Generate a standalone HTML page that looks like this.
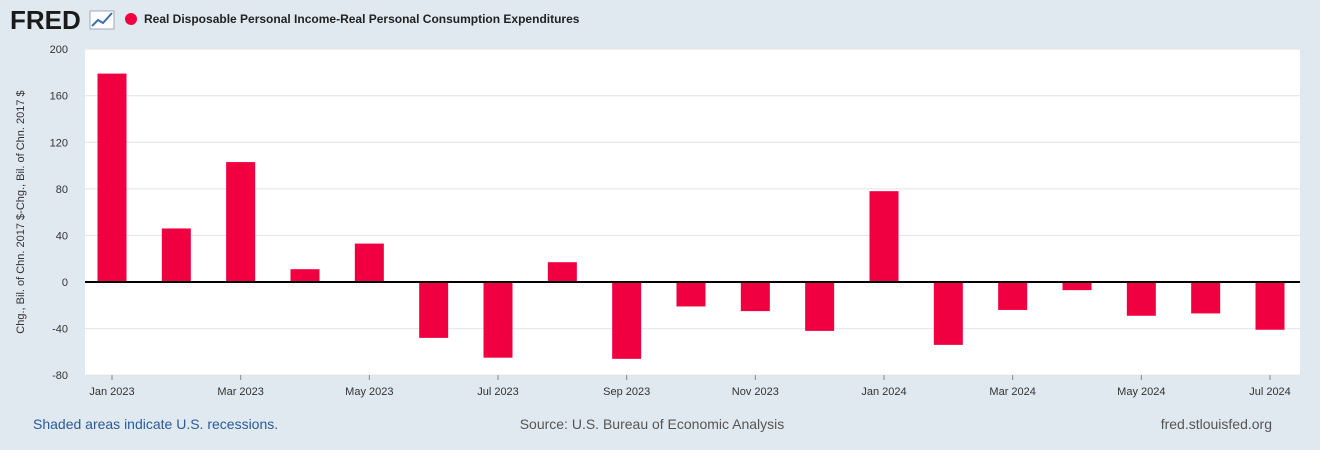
<!DOCTYPE html>
<html><head><meta charset="utf-8"><style>
body{margin:0;background:#e1e9f0;font-family:"Liberation Sans",Arial,sans-serif}
svg{display:block}
</style></head><body>
<svg width="1320" height="450" xmlns="http://www.w3.org/2000/svg">
<rect width="1320" height="450" fill="#e1e9f0"/>
<text x="10" y="29" font-size="26" font-weight="bold" fill="#1a1a1a" font-family="Liberation Sans,sans-serif">FRED</text>
<g><rect x="90" y="11" width="24" height="18" fill="#fff" stroke="#9ab"/><polyline points="92,26 98,20 103,23 112,13" fill="none" stroke="#3b6fb0" stroke-width="2"/></g>
<circle cx="131" cy="19" r="6" fill="#f00040"/>
<text x="144" y="23" font-size="12" font-weight="bold" fill="#222">Real Disposable Personal Income-Real Personal Consumption Expenditures</text>
<rect x="85" y="49" width="1215" height="326" fill="#fff"/>
<g id="grid"></g><g id="bars"></g><g id="xt"></g>
<text transform="translate(24,212) rotate(-90)" text-anchor="middle" font-size="11" fill="#333">Chg., Bil. of Chn. 2017 $-Chg., Bil. of Chn. 2017 $</text>
<text x="33" y="429" font-size="14" fill="#2a5a9a">Shaded areas indicate U.S. recessions.</text>
<text x="652" y="429" text-anchor="middle" font-size="14" fill="#555">Source: U.S. Bureau of Economic Analysis</text>
<text x="1272" y="429" text-anchor="end" font-size="14" fill="#555">fred.stlouisfed.org</text>
</svg>
<script>
const categories=["Jan 2023","Feb 2023","Mar 2023","Apr 2023","May 2023","Jun 2023","Jul 2023","Aug 2023","Sep 2023","Oct 2023","Nov 2023","Dec 2023","Jan 2024","Feb 2024","Mar 2024","Apr 2024","May 2024","Jun 2024","Jul 2024"];
const values=[179,46,103,11,33,-48,-65,17,-66,-21,-25,-42,78,-54,-24,-7,-29,-27,-41];
const yTicks=[200,160,120,80,40,0,-40,-80];
const NS="http://www.w3.org/2000/svg";
const y=v=>282-(v)*326/280;
const x=i=>112+i*(1270-112)/18;
function mk(t,a,p){const e=document.createElementNS(NS,t);for(const k in a)e.setAttribute(k,a[k]);p.appendChild(e);return e;}
const g=document.getElementById('grid'),b=document.getElementById('bars'),xt=document.getElementById('xt');
yTicks.forEach(v=>{
 const l=mk('line',{x1:85,x2:1300,y1:y(v),y2:y(v),stroke:'#e4e4e4'},g);
 
 
 const t=mk('text',{x:68,y:y(v)+4,'text-anchor':'end','font-size':11,fill:'#333'},g);
 t.textContent=v;
 
 
});
values.forEach((v,i)=>{
 const r=mk('rect',{x:x(i)-14.5,width:29,y:Math.min(y(v),y(0)),height:Math.abs(y(v)-y(0)),fill:'#f00040'},b);
 
 
 if(i%2===0){
  const tk=mk('line',{x1:x(i),x2:x(i),y1:375,y2:380,stroke:'#888'},xt);
  
  
  const t=mk('text',{x:x(i),y:395,'text-anchor':'middle','font-size':11,fill:'#333'},xt);
  t.textContent=categories[i].replace('Jan','Jan').replace(/^(\w+) /,'$1 ');
  
  
 }
});
const z=mk('line',{x1:85,x2:1300,y1:y(0),y2:y(0),stroke:'#000','stroke-width':2},b);


</script>
</body></html>
